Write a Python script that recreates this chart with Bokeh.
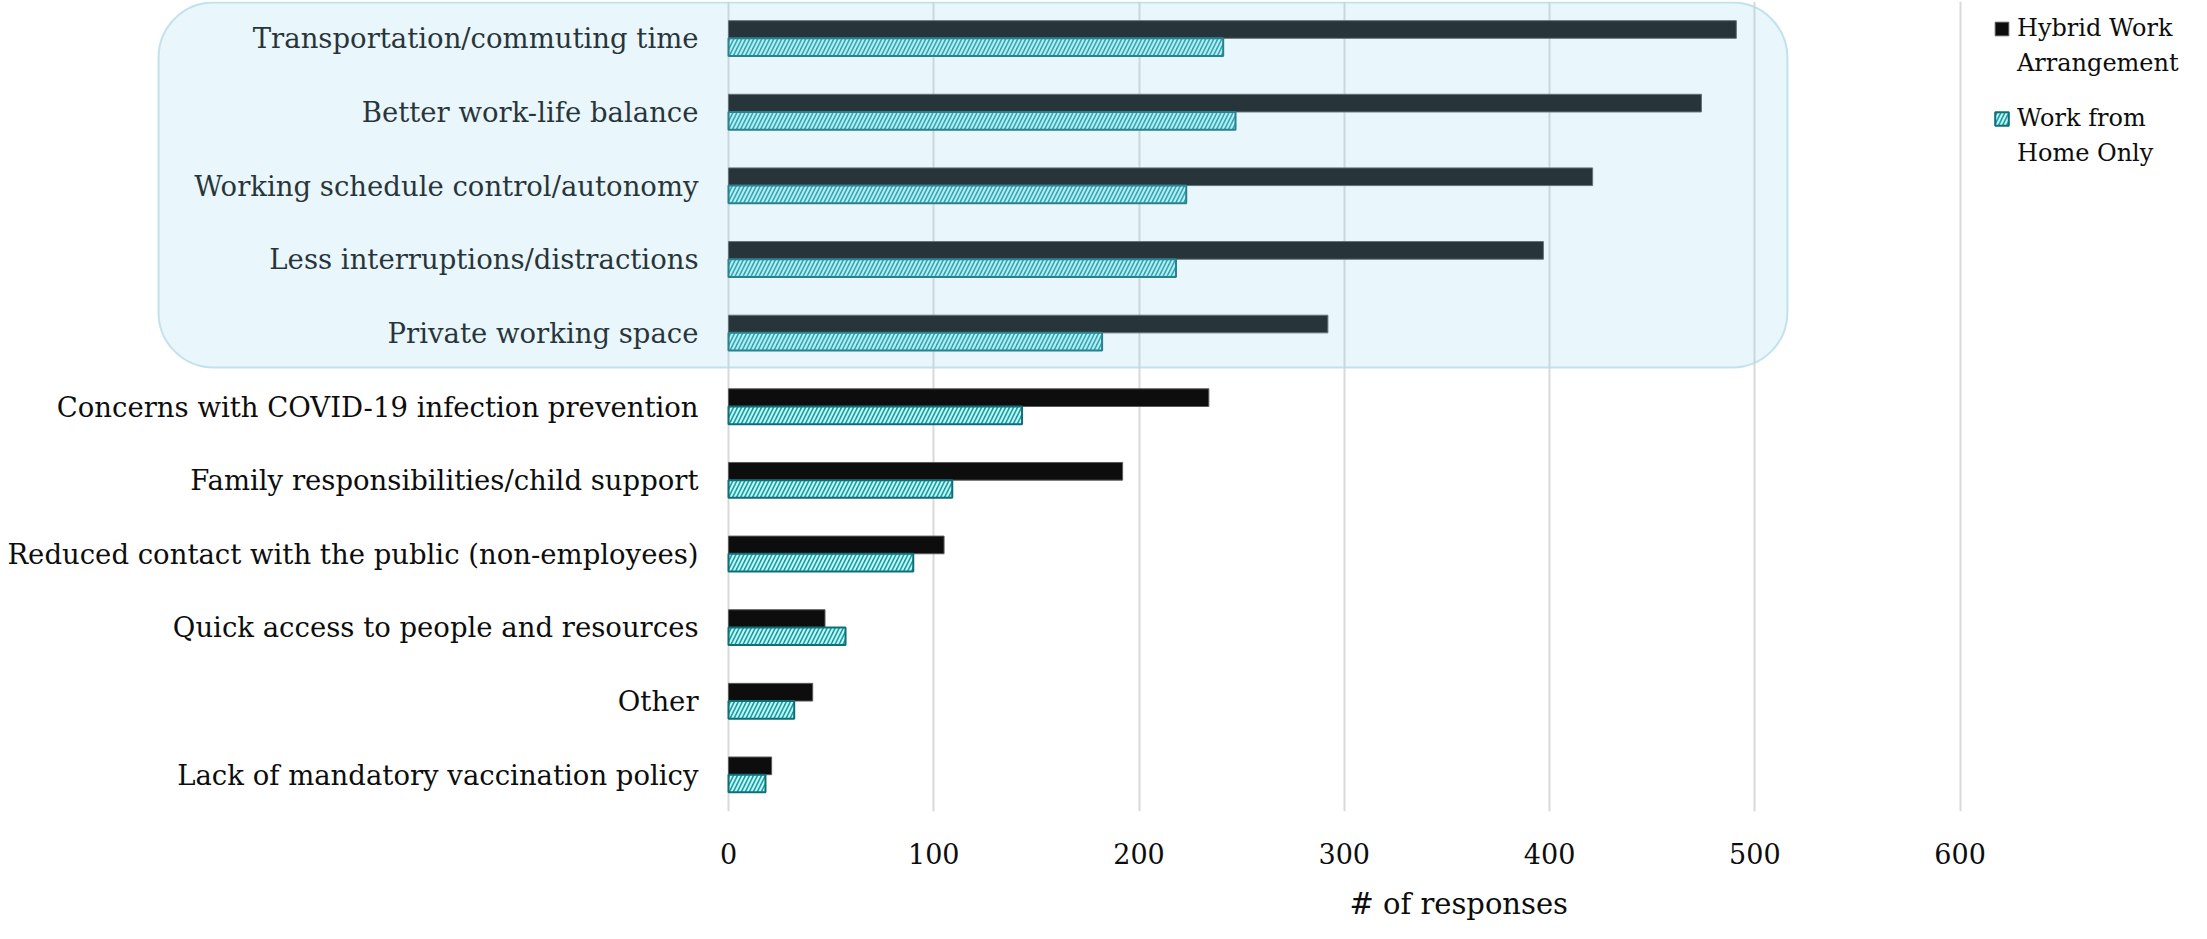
from bokeh.plotting import figure
from bokeh.models import (FactorRange, FixedTicker, BoxAnnotation, Legend, LegendItem,
                          Range1d, ColumnDataSource, Title)
from bokeh.transform import dodge
from bokeh.embed import file_html
from bokeh.resources import INLINE

categories = [
    "Transportation/commuting time",
    "Better work-life balance",
    "Working schedule control/autonomy",
    "Less interruptions/distractions",
    "Private working space",
    "Concerns with COVID-19 infection prevention",
    "Family responsibilities/child support",
    "Reduced contact with the public (non-employees)",
    "Quick access to people and resources",
    "Other",
    "Lack of mandatory vaccination policy",
]
hybrid = [491, 474, 421, 397, 292, 234, 192, 105, 47, 41, 21]
wfh = [241, 247, 223, 218, 182, 143, 109, 90, 57, 32, 18]
x_ticks = [0, 100, 200, 300, 400, 500, 600]
series_names = [["Hybrid Work", "Arrangement"], ["Work from", "Home Only"]]
x_title = "# of responses"
n_highlight = 5

FONT = "DejaVu Serif"

W, H = 2207, 939
n = len(categories)
X_START, X_END = -354.7, 707.4
FRAME_BOTTOM = 811

p = figure(width=W, height=H,
           y_range=FactorRange(factors=categories[::-1], range_padding=0, factor_padding=0),
           x_range=Range1d(X_START, X_END),
           output_backend="svg", toolbar_location=None,
           min_border_left=0, min_border_right=27, min_border_top=1,
           min_border_bottom=H - FRAME_BOTTOM)
p.outline_line_color = None
p.background_fill_color = "white"
p.border_fill_color = "white"

src = ColumnDataSource(dict(cat=categories, hybrid=hybrid, wfh=wfh))
r1 = p.hbar(y=dodge("cat", 0.12, range=p.y_range), left=0, right="hybrid", height=0.24,
            source=src, fill_color="#0d0d0d", line_color="#5a5a5a", line_width=1)
r2 = p.hbar(y=dodge("cat", -0.12, range=p.y_range), left=0, right="wfh", height=0.24,
            source=src, fill_color="#12a0a7", hatch_pattern="/", hatch_color="#c6f2f2",
            hatch_scale=8, hatch_weight=2, line_color="#0f6f77", line_width=2)
# invisible renderer used for the second line of each legend entry
blank = p.hbar(y=[], left=[], right=[], height=0.24, fill_alpha=0, line_alpha=0)

# axes
p.xaxis.ticker = FixedTicker(ticks=x_ticks)
p.xaxis.axis_line_color = None
p.xaxis.major_tick_line_color = None
p.xaxis.minor_tick_line_color = None
p.xaxis.major_label_text_font = FONT
p.xaxis.major_label_text_font_size = "27px"
p.xaxis.major_label_text_color = "#0d0d0d"
p.xaxis.major_label_standoff = 25

# x-axis title, centred under the value area (x = 0 .. frame end)
title_text_width = 222
xt = Title(text=x_title, align="left", offset=1460 - title_text_width / 2, standoff=37,
           text_font=FONT, text_font_size="29px", text_font_style="normal",
           text_color="#0d0d0d")
p.add_layout(xt, "below")

p.yaxis.fixed_location = 0
p.yaxis.axis_line_color = None
p.yaxis.major_tick_line_color = None
p.yaxis.minor_tick_line_color = None
p.yaxis.major_label_text_font = FONT
p.yaxis.major_label_text_font_size = "27.5px"
p.yaxis.major_label_text_color = "#0d0d0d"
p.yaxis.major_label_standoff = 24

p.ygrid.grid_line_color = None
p.xgrid.ticker = FixedTicker(ticks=x_ticks)
p.xgrid.grid_line_color = "#d9d9d9"
p.xgrid.grid_line_width = 2

# highlight box over the top categories
box = BoxAnnotation(left=-277.7, right=515.9, top=n - 0.015, bottom=n - n_highlight + 0.03,
                    fill_color="#8fd2eb", fill_alpha=0.2,
                    line_color="#b5dce6", line_alpha=0.8, line_width=2,
                    border_radius=55)
p.add_layout(box)

legend_kw = dict(orientation="vertical", label_text_font=FONT, label_text_font_size="24px",
                 label_text_color="#0d0d0d", glyph_width=17, glyph_height=17,
                 label_standoff=7, spacing=7, padding=0, margin=0,
                 background_fill_alpha=0, border_line_color=None)
LEG_H = 67
leg1 = Legend(items=[LegendItem(label=series_names[0][0], renderers=[r1]),
                     LegendItem(label=series_names[0][1], renderers=[blank])],
              location=(1993, FRAME_BOTTOM - 10 - LEG_H), **legend_kw)
leg2 = Legend(items=[LegendItem(label=series_names[1][0], renderers=[r2]),
                     LegendItem(label=series_names[1][1], renderers=[blank])],
              location=(1993, FRAME_BOTTOM - 100 - LEG_H), **legend_kw)
p.add_layout(leg1)
p.add_layout(leg2)

open("out.html", "w").write(file_html(p, INLINE))
